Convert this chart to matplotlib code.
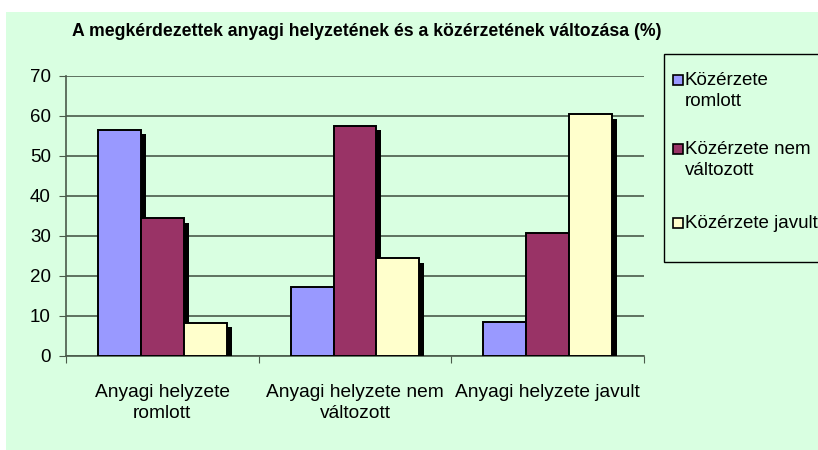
import matplotlib
matplotlib.use("Agg")
import matplotlib.pyplot as plt
import matplotlib.patheffects as pe
from matplotlib.patches import Rectangle
import numpy as np

plt.rcParams['font.family'] = ['Liberation Sans', 'DejaVu Sans']

categories = ["Anyagi helyzete\nromlott", "Anyagi helyzete nem\nváltozott", "Anyagi helyzete javult"]
series_names = ["Közérzete\nromlott", "Közérzete nem\nváltozott", "Közérzete javult"]
romlott = [56.5, 17.3, 8.4]
nem_valtozott = [34.4, 57.5, 30.7]
javult = [8.3, 24.4, 60.4]
colors = ["#9999FF", "#993366", "#FFFFCC"]
yticks = [0, 10, 20, 30, 40, 50, 60, 70]
title = "A megkérdezettek anyagi helyzetének és a közérzetének változása (%)"

bg = "#D9FFE1"
W, H = 818, 450
fig = plt.figure(figsize=(W / 100, H / 100), dpi=100)
fig.patch.set_facecolor(bg)
# white margin strips
fig.patches.append(Rectangle((0, 1 - 12 / H), 1, 12 / H, transform=fig.transFigure,
                             facecolor="white", edgecolor="none", zorder=-10))
fig.patches.append(Rectangle((0, 0), 6 / W, 1, transform=fig.transFigure,
                             facecolor="white", edgecolor="none", zorder=-10))

ax = fig.add_axes([66 / W, 1 - 356 / H, (644 - 66) / W, (356 - 76) / H])
ax.set_facecolor(bg)

series = [romlott, nem_valtozott, javult]
n = len(categories)
x = np.arange(n)
bw = 0.223
for i, (vals, c) in enumerate(zip(series, colors)):
    ax.bar(x + (i - 1) * bw, vals, width=bw, color=c, edgecolor="black", linewidth=1.4,
           zorder=3,
           path_effects=[pe.SimplePatchShadow(offset=(3.4, -3.2), shadow_rgbFace="black", alpha=1.0),
                         pe.Normal()])

ax.set_xlim(-0.5, n - 0.5)
ax.set_ylim(0, 70)
ax.set_yticks(yticks)
ax.set_yticklabels([str(t) for t in yticks], fontsize=13.5)
ax.set_xticks(np.arange(n + 1) - 0.5)
ax.set_xticklabels([])
ax.set_xticks(x, minor=True)
ax.set_xticklabels(categories, minor=True, fontsize=13.8, linespacing=1.35)
ax.tick_params(axis="x", which="minor", length=0, pad=20)
ax.tick_params(axis="x", which="major", length=5, color="#4a5a4a")
ax.tick_params(axis="y", length=5, color="#4a5a4a", pad=6)
ax.yaxis.grid(True, color="#4a5a4a", linewidth=1.2, zorder=1)
ax.set_axisbelow(True)
for s in ["top", "right"]:
    ax.spines[s].set_visible(False)
for s in ["left", "bottom"]:
    ax.spines[s].set_color("#4a5a4a")
    ax.spines[s].set_linewidth(1.2)

fig.text(367 / W, 1 - 31 / H, title, ha="center", va="center", fontsize=12.7, fontweight="bold")

# legend box
fig.patches.append(Rectangle((664 / W, 1 - 262 / H), 0.3, (262 - 54) / H, transform=fig.transFigure,
                             facecolor=bg, edgecolor="black", linewidth=1.0, zorder=1))
leg_top = [72, 141, 215]
for name, c, yy in zip(series_names, colors, leg_top):
    fig.patches.append(Rectangle((673 / W, 1 - (yy + 13) / H), 10 / W, 10 / H, transform=fig.transFigure,
                                 facecolor=c, edgecolor="black", linewidth=1.2, zorder=2))
    fig.text(685 / W, 1 - yy / H, name, ha="left", va="top", fontsize=13.5, linespacing=1.3, zorder=3)

fig.savefig("out.png", dpi=100, facecolor=fig.get_facecolor())
